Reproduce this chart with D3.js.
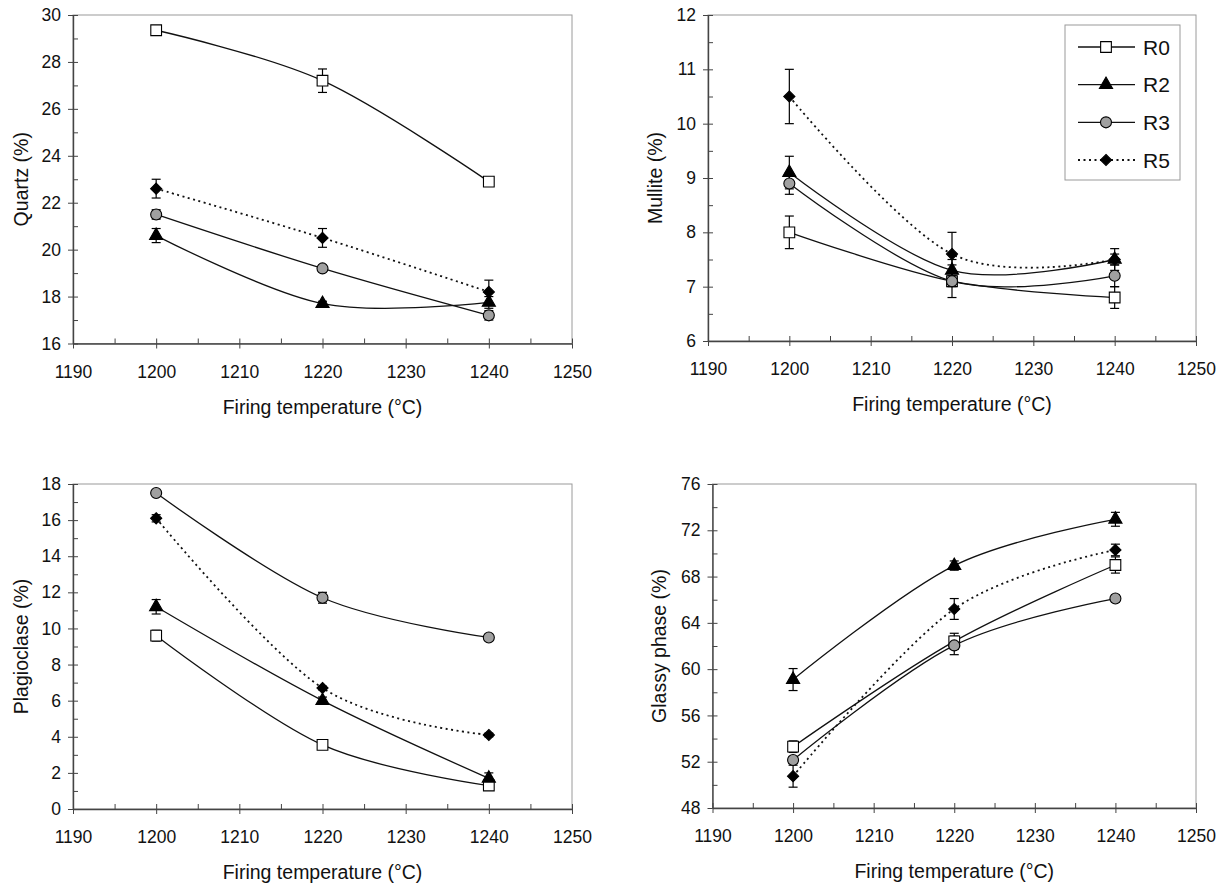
<!DOCTYPE html>
<html>
<head>
<meta charset="utf-8">
<script src="https://cdn.jsdelivr.net/npm/d3@7"></script>
<style>
    body { margin: 0; background: #fff; }
    svg { display: block; font-family: Arial, 'Liberation Sans', sans-serif; }
    .tick text { font-size: 17.5px; fill: #111; }
    .axis-title { font-size: 19.5px; fill: #111; }
    .legend-label { font-size: 21px; fill: #111; }
</style>
</head>
<body>
<svg class="chart"></svg>
<script>

const temps = [ 1200, 1220, 1240 ]
const seriesNames = [ 'R0', 'R2', 'R3', 'R5' ]

// one row per series, in the order of seriesNames
const quartzValues = [ [ 29.35, 27.2, 22.9 ], [ 20.6, 17.7, 17.75 ], [ 21.5, 19.2, 17.2 ], [ 22.6, 20.5, 18.2 ] ]
const quartzErrors = [ [ 0, 0.5, 0.1 ], [ 0.3, 0.1, 0.25 ], [ 0.2, 0.1, 0.2 ], [ 0.4, 0.4, 0.5 ] ]

const mulliteValues = [ [ 8.0, 7.1, 6.8 ], [ 9.1, 7.3, 7.5 ], [ 8.9, 7.1, 7.2 ], [ 10.5, 7.6, 7.5 ] ]
const mulliteErrors = [ [ 0.3, 0.3, 0.2 ], [ 0.3, 0.2, 0.2 ], [ 0.2, 0.1, 0.2 ], [ 0.5, 0.4, 0.1 ] ]

const plagioValues = [ [ 9.6, 3.55, 1.3 ], [ 11.2, 6.0, 1.7 ], [ 17.5, 11.7, 9.5 ], [ 16.1, 6.7, 4.1 ] ]
const plagioErrors = [ [ 0.3, 0.1, 0.1 ], [ 0.4, 0.2, 0.3 ], [ 0.1, 0.3, 0.1 ], [ 0.2, 0.1, 0.1 ] ]

const glassyValues = [ [ 53.3, 62.4, 69.0 ], [ 59.1, 68.95, 72.95 ], [ 52.15, 62.05, 66.1 ], [ 50.75, 65.2, 70.3 ] ]
const glassyErrors = [ [ 0.5, 0.7, 0.7 ], [ 0.95, 0.4, 0.6 ], [ 0.3, 0.8, 0.3 ], [ 0.95, 0.9, 0.5 ] ]

const xTicks = [ 1190, 1200, 1210, 1220, 1230, 1240, 1250 ]
const quartzTicks = [ 16, 18, 20, 22, 24, 26, 28, 30 ]
const mulliteTicks = [ 6, 7, 8, 9, 10, 11, 12 ]
const plagioTicks = [ 0, 2, 4, 6, 8, 10, 12, 14, 16, 18 ]
const glassyTicks = [ 48, 52, 56, 60, 64, 68, 72, 76 ]

const yTitles = [ 'Quartz (%)', 'Mullite (%)', 'Plagioclase (%)', 'Glassy phase (%)' ]
const xTitle = 'Firing temperature (°C)'

const draw = () => {

    const width = 1232
    const height = 890

    const svg = d3.select('.chart')
        .attr('width', width)
        .attr('height', height)

    const panels = [
        { values: quartzValues, errors: quartzErrors, ticks: quartzTicks, title: yTitles[0], left: 73, right: 572, top: 15, bottom: 343.5, titleX: 21 },
        { values: mulliteValues, errors: mulliteErrors, ticks: mulliteTicks, title: yTitles[1], left: 708, right: 1196, top: 15, bottom: 341, titleX: 655, legend: true },
        { values: plagioValues, errors: plagioErrors, ticks: plagioTicks, title: yTitles[2], left: 73, right: 572, top: 484, bottom: 809, titleX: 21 },
        { values: glassyValues, errors: glassyErrors, ticks: glassyTicks, title: yTitles[3], left: 712.5, right: 1196, top: 484, bottom: 808, titleX: 659 }
    ]

    const midpoints = arr => arr.slice(1).map((d, i) => (d + arr[i]) / 2)

    const diamond = {
        draw: (ctx, size) => {
            const r = Math.sqrt(size / 2)
            ctx.moveTo(0, -r)
            ctx.lineTo(r, 0)
            ctx.lineTo(0, r)
            ctx.lineTo(-r, 0)
            ctx.closePath()
        }
    }

    const markers = [
        { type: d3.symbolSquare, size: 115, fill: '#fff' },
        { type: d3.symbolTriangle, size: 75, fill: '#000' },
        { type: d3.symbolCircle, size: 95, fill: '#a0a0a0' },
        { type: diamond, size: 62, fill: '#000' }
    ]

    const dashes = [ null, null, null, '2,3.5' ]

    panels.forEach(p => {

        const g = svg.append('g')

        const x = d3.scaleLinear()
            .domain(d3.extent(xTicks))
            .range([ p.left, p.right ])

        const y = d3.scaleLinear()
            .domain(d3.extent(p.ticks))
            .range([ p.bottom, p.top ])

        // plot frame
        g.append('rect')
            .attr('x', p.left)
            .attr('y', p.top)
            .attr('width', p.right - p.left)
            .attr('height', p.bottom - p.top)
            .attr('fill', 'none')
            .attr('stroke', '#9a9a9a')
            .attr('stroke-width', 1)

        // outer halves of major ticks + labels
        g.append('g')
            .attr('transform', `translate(${p.left},0)`)
            .attr('color', '#444')
            .call(d3.axisLeft(y).tickValues(p.ticks).tickFormat(d3.format('~g')).tickSizeInner(5).tickSizeOuter(0).tickPadding(7))
            .call(a => a.select('.domain').attr('stroke-width', 1.4))

        g.append('g')
            .attr('transform', `translate(0,${p.bottom})`)
            .attr('color', '#444')
            .call(d3.axisBottom(x).tickValues(xTicks).tickFormat(d3.format('d')).tickSizeInner(5).tickSizeOuter(0).tickPadding(17))
            .call(a => a.select('.domain').attr('stroke-width', 1.4))

        // inner ticks, major and minor
        g.append('g')
            .attr('transform', `translate(${p.left},0)`)
            .attr('color', '#444')
            .call(d3.axisRight(y).tickValues(p.ticks.concat(midpoints(p.ticks))).tickSize(5).tickFormat(''))
            .call(a => a.select('.domain').remove())

        g.append('g')
            .attr('transform', `translate(0,${p.bottom})`)
            .attr('color', '#444')
            .call(d3.axisTop(x).tickValues(xTicks.concat(midpoints(xTicks))).tickSize(5).tickFormat(''))
            .call(a => a.select('.domain').remove())

        g.selectAll('.tick text').attr('fill', '#111')

        g.append('text')
            .attr('class', 'axis-title')
            .attr('text-anchor', 'middle')
            .attr('transform', `translate(${p.titleX},${(p.top + p.bottom) / 2}) rotate(-90)`)
            .attr('dy', '0.35em')
            .text(p.title)

        g.append('text')
            .attr('class', 'axis-title')
            .attr('text-anchor', 'middle')
            .attr('x', (p.left + p.right) / 2)
            .attr('y', p.bottom + 70)
            .text(xTitle)

        const line = d3.line()
            .x((d, i) => x(temps[i]))
            .y(d => y(d))
            .curve(d3.curveCardinal.tension(0))

        g.selectAll('.series-line')
            .data(p.values)
            .enter()
            .append('path')
            .attr('class', 'series-line')
            .attr('d', line)
            .attr('fill', 'none')
            .attr('stroke', '#111')
            .attr('stroke-width', (d, i) => i === 3 ? 1.8 : 1.3)
            .attr('stroke-dasharray', (d, i) => dashes[i])

        // error bars
        p.values.forEach((vals, s) => {
            vals.forEach((v, i) => {
                const e = p.errors[s][i]
                if(e === 0) return
                const cx = x(temps[i])
                const eg = g.append('g').attr('stroke', '#000').attr('stroke-width', 1.2)
                eg.append('line')
                    .attr('x1', cx).attr('x2', cx)
                    .attr('y1', y(v - e)).attr('y2', y(v + e))
                eg.selectAll('cap')
                    .data([ v - e, v + e ])
                    .enter()
                    .append('line')
                    .attr('x1', cx - 4.5).attr('x2', cx + 4.5)
                    .attr('y1', d => y(d)).attr('y2', d => y(d))
            })
        })

        p.values.forEach((vals, s) => {
            g.selectAll('blah')
                .data(vals)
                .enter()
                .append('path')
                .attr('transform', (d, i) => `translate(${x(temps[i])},${y(d)})`)
                .attr('d', d3.symbol().type(markers[s].type).size(markers[s].size))
                .attr('fill', markers[s].fill)
                .attr('stroke', '#000')
                .attr('stroke-width', 1.1)
        })

        if(p.legend) {

            const lg = g.append('g')

            lg.append('rect')
                .attr('x', 1065)
                .attr('y', 25)
                .attr('width', 115)
                .attr('height', 155)
                .attr('fill', '#fff')
                .attr('stroke', '#9a9a9a')

            const rowY = d3.scalePoint()
                .domain(seriesNames)
                .range([ 47, 160 ])

            const rows = lg.selectAll('blah')
                .data(seriesNames)
                .enter()
                .append('g')
                .attr('transform', d => `translate(0,${rowY(d)})`)

            rows.append('line')
                .attr('x1', 1078)
                .attr('x2', 1135)
                .attr('stroke', '#111')
                .attr('stroke-width', (d, i) => i === 3 ? 1.8 : 1.3)
                .attr('stroke-dasharray', (d, i) => dashes[i])

            rows.append('path')
                .attr('transform', 'translate(1106,0)')
                .attr('d', (d, i) => d3.symbol().type(markers[i].type).size(markers[i].size)())
                .attr('fill', (d, i) => markers[i].fill)
                .attr('stroke', '#000')
                .attr('stroke-width', 1.1)

            rows.append('text')
                .attr('class', 'legend-label')
                .attr('x', 1143)
                .attr('dy', '0.36em')
                .text(d => d)
        }

    })

}

draw()

</script>
</body>
</html>
